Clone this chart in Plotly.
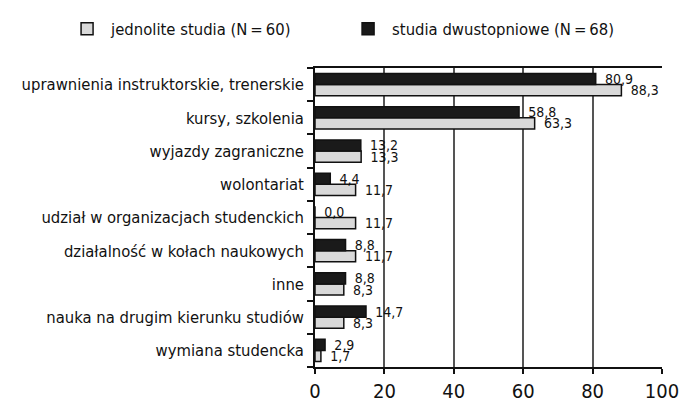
import plotly.graph_objects as go

categories = [
    "uprawnienia instruktorskie, trenerskie",
    "kursy, szkolenia",
    "wyjazdy zagraniczne",
    "wolontariat",
    "udział w organizacjach studenckich",
    "działalność w kołach naukowych",
    "inne",
    "nauka na drugim kierunku studiów",
    "wymiana studencka",
]
jednolite = [88.3, 63.3, 13.3, 11.7, 11.7, 11.7, 8.3, 8.3, 1.7]
dwustopniowe = [80.9, 58.8, 13.2, 4.4, 0.0, 8.8, 8.8, 14.7, 2.9]
x_ticks = [0, 20, 40, 60, 80, 100]

FONT = "DejaVu Sans Condensed, Liberation Sans Narrow, Arial Narrow, sans-serif"


def fmt(v):
    return "\u2002" + f"{v:.1f}".replace(".", ",")


fig = go.Figure()
fig.add_trace(go.Bar(
    y=categories, x=jednolite, orientation="h",
    name="jednolite studia (N\u2009=\u200960)",
    marker=dict(color="#d9d9d9", line=dict(color="#111111", width=1.5)),
    text=[fmt(v) for v in jednolite], textposition="outside",
    textfont=dict(family=FONT, size=14, color="#111111"),
    cliponaxis=False, constraintext="none",
))
fig.add_trace(go.Bar(
    y=categories, x=dwustopniowe, orientation="h",
    name="studia dwustopniowe (N\u2009=\u200968)",
    marker=dict(color="#1a1a1a", line=dict(color="#111111", width=1.5)),
    text=[fmt(v) for v in dwustopniowe], textposition="outside",
    textfont=dict(family=FONT, size=14, color="#111111"),
    cliponaxis=False, constraintext="none",
))

fig.update_layout(
    width=680, height=400,
    margin=dict(l=315, r=18, t=68, b=33, autoexpand=False),
    paper_bgcolor="white", plot_bgcolor="white",
    barmode="group", bargap=0.33, bargroupgap=0,
    font=dict(family=FONT, color="#111111"),
    showlegend=True,
    legend=dict(
        orientation="h", x=-0.726, xanchor="left", xref="paper",
        y=1.189, yanchor="top", yref="paper",
        font=dict(family=FONT, size=16.5, color="#111111"),
        traceorder="normal", itemwidth=38, entrywidth=228,
    ),
    xaxis=dict(
        range=[0, 100], tickvals=x_ticks, ticktext=[str(t) for t in x_ticks],
        showgrid=True, gridcolor="#555555", gridwidth=1.5,
        showline=True, linecolor="#111111", linewidth=1.5, mirror=True,
        ticks="outside", ticklen=5, tickwidth=1.5, tickcolor="#111111",
        tickfont=dict(family=FONT, size=20, color="#111111"),
        ticklabeloverflow="allow",
        zeroline=False, fixedrange=True, automargin=False,
    ),
    yaxis=dict(
        categoryorder="array", categoryarray=categories[::-1],
        showline=True, linecolor="#111111", linewidth=1.5,
        ticks="outside", ticklen=6, tickwidth=1.5, tickcolor="#111111",
        tickson="boundaries", showgrid=False, ticklabelstandoff=6,
        tickfont=dict(family=FONT, size=16.5, color="#111111"),
        fixedrange=True, automargin=False,
    ),
)

fig.write_html("out.html", config={"displayModeBar": False},
               post_script="document.body.style.margin='0';")
